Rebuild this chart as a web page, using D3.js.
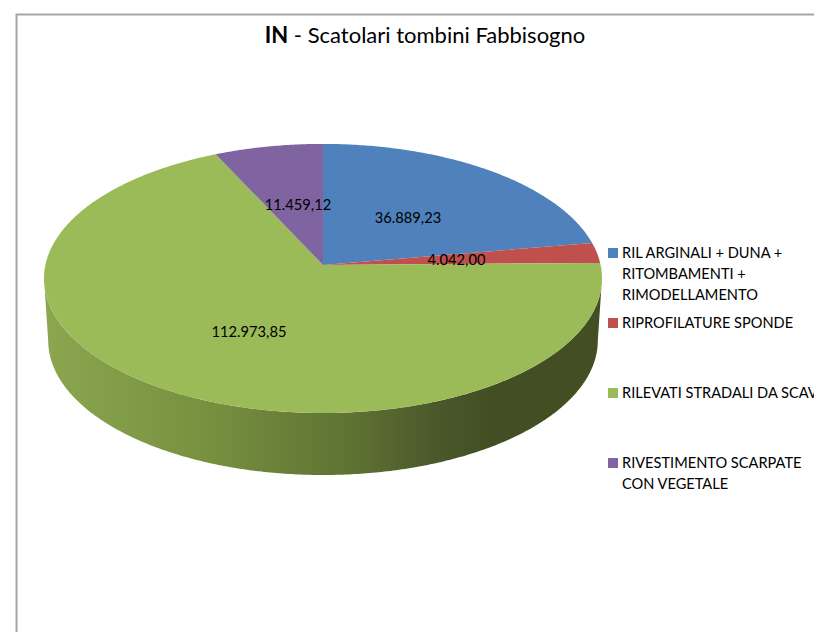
<!DOCTYPE html>
<html>
<head>
<meta charset="utf-8">
<script src="https://cdnjs.cloudflare.com/ajax/libs/d3/7.8.5/d3.min.js"></script>
<style>
html, body { margin: 0; padding: 0; background: #fff; overflow: hidden; }
text { font-family: Lato, "Open Sans", sans-serif; fill: #000; }
</style>
</head>
<body>
<svg width="814" height="632"></svg>
<script>
const categories = ['RIL ARGINALI + DUNA + RITOMBAMENTI + RIMODELLAMENTO', 'RIPROFILATURE SPONDE', 'RILEVATI STRADALI DA SCAVO', 'RIVESTIMENTO SCARPATE CON VEGETALE'];
const values = [36889.23, 4042.00, 112973.85, 11459.12];
const valueLabels = ['36.889,23', '4.042,00', '112.973,85', '11.459,12'];
const legendLines = [['RIL ARGINALI + DUNA +', 'RITOMBAMENTI +', 'RIMODELLAMENTO'], ['RIPROFILATURE SPONDE'], ['RILEVATI STRADALI DA SCAVO'], ['RIVESTIMENTO SCARPATE', 'CON VEGETALE']];
const colors = ['#4f81bd', '#c0504d', '#9bbb59', '#8064a2'];

// layout
const cx = 323, cy = 265;
const scaleX = 277.6, scaleY = 133.2, persp = 0.1;
const depth = 62, bottomShrink = 0.985;
const labelX = [408, 456.5, 249, 298];
const labelY = [218, 260, 332, 205];
const legendY = [253, 323, 393, 463];

const svg = d3.select('svg');
const pie = d3.pie().sort(null).value(d => d);
const arcs = pie(values);

// tilted disc: a circle point seen in perspective, near side bigger
const project = (a) => {
    const u = Math.sin(a), v = -Math.cos(a), w = 1 - persp * v;
    return [cx + scaleX * u / w, cy + scaleY * v / w];
};
const sample = (a0, a1) => {
    const n = Math.max(2, Math.ceil((a1 - a0) / 0.01));
    return d3.range(n + 1).map(i => a0 + (a1 - a0) * i / n);
};
const line = d3.line();

const defs = svg.append('defs');
const wallGrad = defs.append('linearGradient')
    .attr('id', 'wall')
    .attr('gradientUnits', 'userSpaceOnUse')
    .attr('x1', 44).attr('x2', 602).attr('y1', 0).attr('y2', 0);
[[0, '#8ba64f'], [0.3, '#76903f'], [0.55, '#5f7233'], [0.72, '#485629'], [0.8, '#434f22'], [1, '#434f22']]
    .forEach(s => wallGrad.append('stop').attr('offset', s[0]).attr('stop-color', s[1]));

// chart frame, runs off the page at right and bottom
svg.append('path')
    .attr('d', 'M16.5,640V14.5H820')
    .attr('fill', 'none')
    .attr('stroke', '#a6a6a6')
    .attr('stroke-width', 2);

// side wall: only the near part of the rim is visible
const wallStart = Math.PI - Math.acos(persp), wallEnd = Math.PI + Math.acos(persp);
arcs.forEach((d) => {
    const a0 = Math.max(d.startAngle, wallStart), a1 = Math.min(d.endAngle, wallEnd);
    if (a1 <= a0) return;
    const angles = sample(a0, a1);
    const top = angles.map(project);
    const bottom = top.map(p => [cx + (p[0] - cx) * bottomShrink, p[1] + depth]).reverse();
    svg.append('path')
        .attr('d', line(top.concat(bottom)) + 'Z')
        .attr('fill', 'url(#wall)');
});

// top face
svg.selectAll('path.slice')
    .data(arcs)
    .enter()
    .append('path')
    .attr('class', 'slice')
    .attr('d', d => line([[cx, cy]].concat(sample(d.startAngle, d.endAngle).map(project))) + 'Z')
    .attr('fill', (d, i) => colors[i]);

// value labels
svg.selectAll('text.value')
    .data(valueLabels)
    .enter()
    .append('text')
    .attr('class', 'value')
    .attr('x', (d, i) => labelX[i])
    .attr('y', (d, i) => labelY[i])
    .attr('dy', '0.35em')
    .attr('text-anchor', 'middle')
    .attr('font-size', 14.7)
    .text(d => d);

// title
const title = svg.append('text')
    .attr('x', 425)
    .attr('y', 43)
    .attr('text-anchor', 'middle')
    .attr('font-size', 22);
title.append('tspan').attr('font-weight', 'bold').text('IN');
title.append('tspan').text(' - Scatolari tombini Fabbisogno');

// legend
const legend = svg.selectAll('g.legend')
    .data(categories)
    .enter()
    .append('g')
    .attr('class', 'legend')
    .attr('transform', (d, i) => `translate(608,${legendY[i]})`);
legend.append('rect')
    .attr('y', -5)
    .attr('width', 10)
    .attr('height', 10)
    .attr('fill', (d, i) => colors[i]);
legend.each(function (d, i) {
    d3.select(this).selectAll('text')
        .data(legendLines[i])
        .enter()
        .append('text')
        .attr('x', 14)
        .attr('y', (t, j) => j * 21)
        .attr('dy', '0.35em')
        .attr('font-size', 14.6)
        .text(t => t);
});
</script>
</body>
</html>
